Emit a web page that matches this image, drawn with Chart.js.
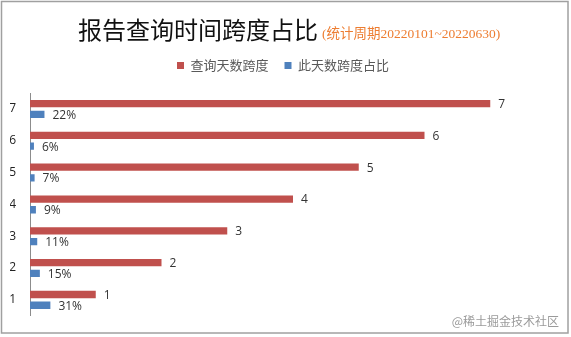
<!DOCTYPE html>
<html>
<head>
<meta charset="utf-8">
<script src="https://cdn.jsdelivr.net/npm/chart.js@4.4.1/dist/chart.umd.min.js"></script>
<style>
html,body{margin:0;padding:0;background:#fff;}
canvas{display:block;}
</style>
</head>
<body>
<canvas id="c" width="571" height="337"></canvas>
<script>
const categories = ['7','6','5','4','3','2','1'];
const dayValues = [7,6,5,4,3,2,1];
const shareValues = [0.22,0.06,0.07,0.09,0.11,0.15,0.31];
const seriesNames = ['查询天数跨度','此天数跨度占比'];
const titleText = '报告查询时间跨度占比';
const subtitleText = '(统计周期20220101~20220630)';
const watermarkText = '@稀土掘金技术社区';

const legendSpacer = {
  id: 'legendSpacer',
  beforeInit(chart) {
    const orig = chart.legend.fit;
    chart.legend.fit = function() {
      orig.bind(chart.legend)();
      this.height += 11;
    };
  }
};

const decorations = {
  id: 'decorations',
  afterDatasetsDraw(chart) {
    const ctx = chart.ctx;
    ctx.save();
    ctx.font = '12px "Open Sans"';
    ctx.fillStyle = '#333';
    ctx.textAlign = 'left';
    ctx.textBaseline = 'middle';
    chart.data.datasets.forEach((ds, di) => {
      const meta = chart.getDatasetMeta(di);
      meta.data.forEach((bar, i) => {
        const v = ds.data[i];
        const txt = di === 0 ? String(v) : Math.round(v * 100) + '%';
        ctx.fillText(txt, bar.x + 8, bar.y + 1);
      });
    });
    ctx.restore();
  },
  afterDraw(chart) {
    const ctx = chart.ctx;
    ctx.save();
    ctx.textBaseline = 'middle';
    ctx.textAlign = 'left';
    ctx.fillStyle = '#111';
    ctx.font = '24px "Noto Sans CJK SC"';
    ctx.fillText(titleText, 78, 30);
    const w = ctx.measureText(titleText).width;
    ctx.fillStyle = '#ED7D31';
    ctx.font = '13.5px "Liberation Serif", "Noto Sans CJK SC"';
    ctx.fillText(subtitleText, 78 + w + 4, 34);
    ctx.fillStyle = '#9a9a9a';
    ctx.font = '12px "Noto Sans CJK SC"';
    ctx.textAlign = 'right';
    ctx.fillText(watermarkText, 559, 321);
    ctx.strokeStyle = '#a0a0a0';
    ctx.lineWidth = 1.5;
    ctx.strokeRect(1.5, 1.5, 566.5, 331.5);
    ctx.restore();
  }
};

new Chart(document.getElementById('c'), {
  type: 'bar',
  data: {
    labels: categories,
    datasets: [
      { label: seriesNames[0], data: dayValues, backgroundColor: '#C0504D', barPercentage: 0.68, categoryPercentage: 0.675 },
      { label: seriesNames[1], data: shareValues, backgroundColor: '#4F81BD', barPercentage: 0.68, categoryPercentage: 0.675 }
    ]
  },
  options: {
    indexAxis: 'y',
    responsive: false,
    animation: false,
    layout: { padding: { top: 43, left: 10, right: 15, bottom: 6 } },
    scales: {
      x: { display: false, min: 0, max: 8 },
      y: {
        grid: { display: false, drawTicks: false },
        border: { display: true, color: '#8c8c8c', width: 1 },
        ticks: { color: '#222', font: { family: 'Open Sans', size: 12 }, padding: 14 },
        afterFit(scale) { scale.width = 20; }
      }
    },
    plugins: {
      legend: {
        position: 'top',
        labels: { boxWidth: 7, boxHeight: 7, padding: 16, color: '#595959', font: { family: 'Noto Sans CJK SC', size: 13 } }
      },
      tooltip: { enabled: false }
    }
  },
  plugins: [legendSpacer, decorations]
});
</script>
</body>
</html>
